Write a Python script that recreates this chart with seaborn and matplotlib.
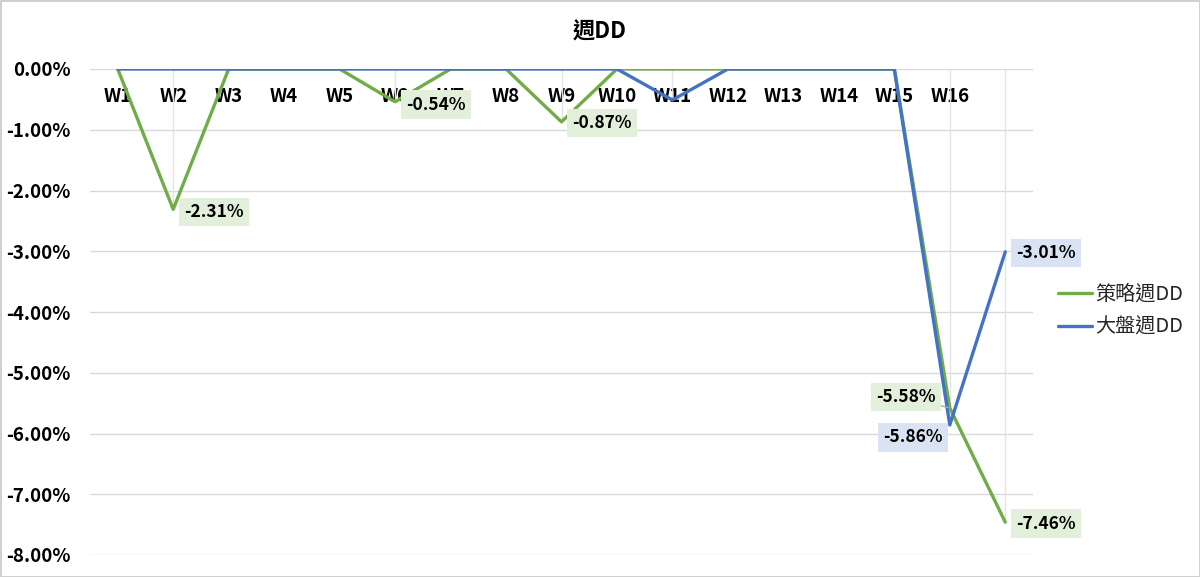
import matplotlib
matplotlib.use("Agg")
import matplotlib.pyplot as plt
import seaborn as sns
import pandas as pd
from matplotlib.ticker import FuncFormatter

weeks = ["W1", "W2", "W3", "W4", "W5", "W6", "W7", "W8", "W9", "W10",
         "W11", "W12", "W13", "W14", "W15", "W16", ""]
strategy_dd = [0.0, -2.31, 0.0, 0.0, 0.0, -0.54, 0.0, 0.0, -0.87, 0.0,
               0.0, 0.0, 0.0, 0.0, 0.0, -5.58, -7.46]
market_dd = [0.0, 0.0, 0.0, 0.0, 0.0, 0.0, 0.0, 0.0, 0.0, 0.0,
             -0.51, 0.0, 0.0, 0.0, 0.0, -5.86, -3.01]
series_names = ["策略週DD", "大盤週DD"]
y_ticks = [0, -1, -2, -3, -4, -5, -6, -7, -8]

sns.set_theme(style="white")
plt.rcParams["font.family"] = ["Noto Sans CJK TC", "DejaVu Sans"]
plt.rcParams["axes.unicode_minus"] = False

GREEN = "#70AD47"
BLUE = "#4472C4"
GRID = "#D9D9D9"

n = len(weeks)
df = pd.DataFrame({
    "idx": list(range(n)) * 2,
    "value": strategy_dd + market_dd,
    "series": [series_names[0]] * n + [series_names[1]] * n,
})

fig = plt.figure(figsize=(12, 5.77), dpi=100)
fig.patch.set_facecolor("white")
fig.patch.set_edgecolor("#D0D0D0")
fig.patch.set_linewidth(2)
ax = fig.add_axes([90 / 1200, 1 - 555 / 577, (1033 - 90) / 1200, (555 - 69) / 577])

# drop lines
for i in range(n):
    lo = min(strategy_dd[i], market_dd[i])
    if lo < 0:
        ax.vlines(i, lo, 0, color="#E3E3E3", lw=1.0, zorder=1)

sns.lineplot(data=df, x="idx", y="value", hue="series", hue_order=series_names,
             palette=[GREEN, BLUE], linewidth=2.4, ax=ax, legend=True, zorder=3,
             sort=False)

ax.set_xlim(-0.5, n - 0.5)
ax.set_ylim(-8, 0)
ax.set_yticks(y_ticks)
ax.yaxis.set_major_formatter(FuncFormatter(lambda v, p: f"{v:.2f}%"))
ax.grid(axis="y", color=GRID, lw=1.0, zorder=0)
ax.set_axisbelow(True)
for s in ax.spines.values():
    s.set_visible(False)
ax.set_xlabel("")
ax.set_ylabel("")

ax.set_xticks(range(n))
ax.set_xticklabels(weeks)
ax.tick_params(axis="x", bottom=False, labelbottom=False, top=False, labeltop=True,
               length=0, pad=-27, labelsize=13.5, labelcolor="#000000")
for t in ax.get_xticklabels():
    t.set_fontweight("bold")
ax.tick_params(axis="y", length=0, pad=14, labelsize=13.5, labelcolor="#000000")
for t in ax.get_yticklabels():
    t.set_fontweight("bold")

fig.text(0.5, 1 - 32 / 577, "週DD", ha="center", va="center", fontsize=16,
         fontweight="bold", color="#000000")

# data labels
GREEN_BG = "#E2EFDA"
BLUE_BG = "#DAE3F3"
label_spec = [
    (1, strategy_dd, GREEN_BG, (8, -2), "left", None),
    (5, strategy_dd, GREEN_BG, (8, -2), "left", None),
    (8, strategy_dd, GREEN_BG, (8, -1), "left", None),
    (15, strategy_dd, GREEN_BG, (-10, 8), "right", True),
    (15, market_dd, BLUE_BG, (-5, -9), "right", None),
    (16, strategy_dd, GREEN_BG, (8, -1), "left", None),
    (16, market_dd, BLUE_BG, (8, -1), "left", None),
]
for i, arr, bg, off, ha, leader in label_spec:
    kw = {}
    if leader:
        kw["arrowprops"] = dict(arrowstyle="-", color="#A6A6A6", lw=1.0,
                                shrinkA=0, shrinkB=0)
    ax.annotate(f"{arr[i]:.2f}%", xy=(i, arr[i]), xytext=off, textcoords="offset points",
                ha=ha, va="center", fontsize=12.5, fontweight="bold", color="#000000",
                bbox=dict(boxstyle="square,pad=0.3", fc=bg, ec="none"), zorder=5, **kw)

leg = ax.legend(loc="center left", bbox_to_anchor=(1040 / 1200, 1 - 311 / 577),
                bbox_transform=fig.transFigure, frameon=False, fontsize=14.5,
                handlelength=1.7, handletextpad=0.15, labelspacing=0.6)
for line in leg.get_lines():
    line.set_linewidth(2.4)

fig.savefig("out.png", dpi=100, facecolor=fig.get_facecolor(), edgecolor=fig.get_edgecolor())
